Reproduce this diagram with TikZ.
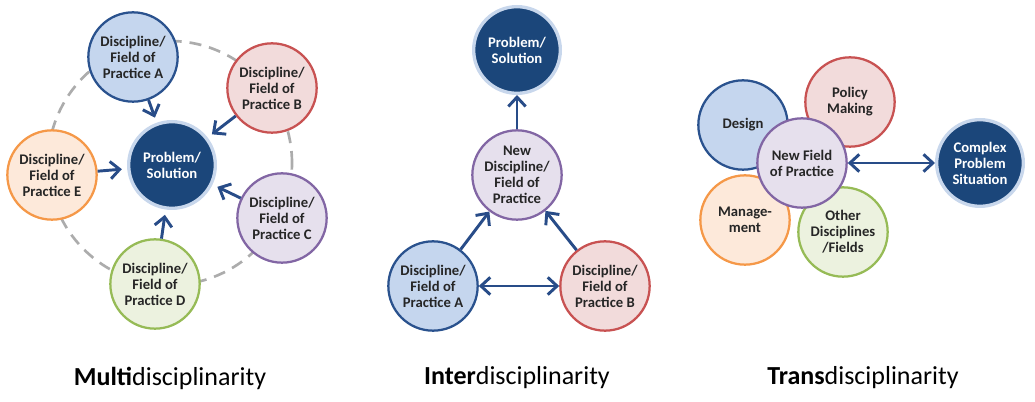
\documentclass[tikz,border=0pt]{standalone}
\usepackage{fontspec}
\setmainfont{Carlito}
\usepackage{tikz}
\usetikzlibrary{arrows.meta}

\definecolor{navy}{RGB}{27,70,122}
\definecolor{arrowblue}{RGB}{40,76,136}
\definecolor{glow}{RGB}{200,215,236}
\definecolor{bluedraw}{RGB}{42,82,142}
\definecolor{bluefill}{RGB}{197,214,238}
\definecolor{reddraw}{RGB}{200,82,82}
\definecolor{redfill}{RGB}{242,219,219}
\definecolor{purpledraw}{RGB}{130,102,164}
\definecolor{purplefill}{RGB}{230,224,237}
\definecolor{greendraw}{RGB}{150,187,86}
\definecolor{greenfill}{RGB}{236,242,223}
\definecolor{orangedraw}{RGB}{245,152,72}
\definecolor{orangefill}{RGB}{253,233,218}
\definecolor{dashgray}{RGB}{172,172,172}

\tikzset{
  disc/.style={circle, draw=#1draw, fill=#1fill, line width=1.7pt, minimum size=67pt,
    inner sep=0pt, align=center, font=\bfseries\fontsize{11}{12}\selectfont, text=black!85},
  target/.style={circle, draw=glow, fill=navy, line width=2.5pt, minimum size=65pt,
    inner sep=0pt, align=center, font=\bfseries\fontsize{11}{12}\selectfont, text=white},
  flow/.style={draw=arrowblue, line width=2.2pt, -{Straight Barb[length=7pt, width=13pt, line width=2.2pt]}},
  both/.style={flow, {Straight Barb[length=7pt, width=13pt, line width=2.2pt]}-{Straight Barb[length=7pt, width=13pt, line width=2.2pt]}},
  caption/.style={font=\fontsize{19.5}{21}\selectfont, text=black}
}

\begin{document}
\begin{tikzpicture}[x=0.75pt, y=-0.75pt]
  \useasboundingbox (0,0) rectangle (1035,402);

  % multidisciplinarity
  \draw[dashgray, line width=2pt, dash pattern=on 9pt off 6pt] (170,163) circle[radius=91.5pt];
  \node[target] (mprob) at (172,165) {Problem/\\Solution};
  \node[disc=blue] (mA) at (133,57) {Discipline/\\Field of\\Practice A};
  \node[disc=red] (mB) at (272,88) {Discipline/\\Field of\\Practice B};
  \node[disc=purple] (mC) at (282,218) {Discipline/\\Field of\\Practice C};
  \node[disc=green] (mD) at (155,284) {Discipline/\\Field of\\Practice D};
  \node[disc=orange] (mE) at (52,175) {Discipline/\\Field of\\Practice E};
  \foreach \n in {mA,mB,mC,mD,mE}
    \draw[flow, shorten >=4pt] (\n) -- (mprob);

  % interdisciplinarity
  \node[target] (iprob) at (517,50) {Problem/\\Solution};
  \node[disc=purple] (inew) at (517,175) {New\\Discipline/\\Field of\\Practice};
  \node[disc=blue] (iA) at (433,286) {Discipline/\\Field of\\Practice A};
  \node[disc=red] (iB) at (605,286) {Discipline/\\Field of\\Practice B};
  \draw[flow] (inew) -- (iprob);
  \draw[flow] (iA) -- (inew);
  \draw[flow] (iB) -- (inew);
  \draw[both] (iA) -- (iB);

  % transdisciplinarity
  \node[disc=blue] (tdes) at (743,125) {Design};
  \node[disc=red] (tpol) at (850,102) {Policy\\Making};
  \node[disc=orange] (tman) at (745,220) {Manage-\\ment};
  \node[disc=green] (toth) at (843,232) {Other\\Disciplines\\/Fields};
  \node[disc=purple] (tnew) at (802,163) {New Field\\of Practice};
  \node[target] (tcpx) at (980,163) {Complex\\Problem\\Situation};
  \draw[both] (tnew) -- (tcpx);

  \node[caption] (lmulti) at (170,378) {\textbf{Multi}disciplinarity};
  \node[caption] (linter) at (517,378) {\textbf{Inter}disciplinarity};
  \node[caption] (ltrans) at (863,378) {\textbf{Trans}disciplinarity};
\end{tikzpicture}
\end{document}
